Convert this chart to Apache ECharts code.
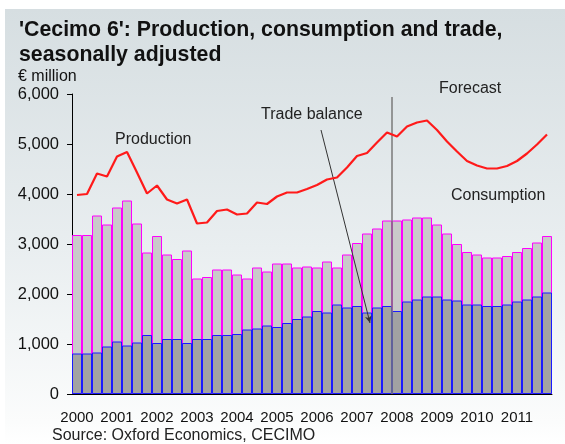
<!DOCTYPE html>
<html>
<head>
<meta charset="utf-8">
<script src="https://cdn.jsdelivr.net/npm/echarts@6/dist/echarts.min.js"></script>
<style>
  html, body { margin: 0; padding: 0; background: #fff; }
  #main { width: 565px; height: 444px; }
</style>
</head>
<body>
<div id="main"></div>
<script>
"use strict"
// quarterly data, 2000 Q1 .. 2011 Q4 (EUR million)
var years = ['2000','2001','2002','2003','2004','2005','2006','2007','2008','2009','2010','2011'];
var quarters = [];
years.forEach(function (y) {
	for (var q = 1; q <= 4; q++) quarters.push(y + ' Q' + q);
});

var consumption = [
	3180, 3180, 3570, 3390, 3730, 3870, 3410, 2830,
	3160, 2790, 2700, 2870, 2310, 2340, 2490, 2490,
	2390, 2310, 2530, 2450, 2610, 2610, 2530, 2550,
	2530, 2650, 2530, 2790, 3020, 3210, 3310, 3470,
	3470, 3490, 3530, 3530, 3390, 3210, 3000, 2840,
	2790, 2730, 2730, 2760, 2840, 2920, 3030, 3160
];
var tradeBalance = [
	810, 810, 830, 950, 1050, 970, 1030, 1180,
	1020, 1100, 1100, 1020, 1100, 1100, 1180, 1180,
	1200, 1290, 1310, 1370, 1340, 1420, 1500, 1550,
	1660, 1630, 1790, 1730, 1760, 1630, 1730, 1760,
	1660, 1850, 1890, 1950, 1950, 1890, 1870, 1790,
	1790, 1760, 1760, 1790, 1850, 1890, 1950, 2030
];
var production = [
	3980, 4000, 4410, 4350, 4750, 4840, 4430, 4010,
	4170, 3890, 3810, 3890, 3410, 3430, 3660, 3690,
	3590, 3610, 3830, 3800, 3950, 4030, 4030, 4100,
	4180, 4290, 4330, 4530, 4760, 4820, 5030, 5230,
	5150, 5350, 5430, 5470, 5280, 5050, 4850, 4660,
	4570, 4510, 4510, 4560, 4660, 4810, 4990, 5190
];
var forecastStart = 32; // 2008 Q1

var myChart = echarts.init(document.getElementById('main'));
var font = 'Liberation Sans, Arial, sans-serif';

var option = {
	animation: false,
	textStyle: { fontFamily: font },
	title: {
		text: "'Cecimo 6': Production, consumption and trade,\nseasonally adjusted",
		left: 19,
		top: 18,
		padding: 0,
		textStyle: { fontSize: 21.3, fontWeight: 'bold', color: '#111', lineHeight: 25, fontFamily: font }
	},
	grid: { left: 72, right: 13, top: 94, bottom: 50 },
	graphic: [
		{
			type: 'rect', z: -10, silent: true,
			shape: { x: 5, y: 9, width: 560, height: 435 },
			style: {
				fill: new echarts.graphic.LinearGradient(0, 0, 0, 1, [
					{ offset: 0, color: '#d6dee1' },
					{ offset: 0.55, color: '#e9eef0' },
					{ offset: 0.95, color: '#fbfcfc' },
					{ offset: 1, color: '#ffffff' }
				])
			}
		},
		{ type: 'text', left: 18, top: 69, style: { text: '€ million', fill: '#111', font: '16px ' + font } },
		{ type: 'text', left: 115, top: 132, style: { text: 'Production', fill: '#222', font: '16px ' + font } },
		{ type: 'text', left: 261, top: 107, style: { text: 'Trade balance', fill: '#222', font: '16px ' + font } },
		{ type: 'text', left: 439, top: 81, style: { text: 'Forecast', fill: '#222', font: '16px ' + font } },
		{ type: 'text', left: 451, top: 188, style: { text: 'Consumption', fill: '#222', font: '16px ' + font } },
		{ type: 'text', left: 52, top: 428, style: { text: 'Source: Oxford Economics, CECIMO', fill: '#222', font: '16px ' + font } }
	],
	xAxis: [
		{
			type: 'category',
			data: quarters,
			boundaryGap: true,
			axisLine: { lineStyle: { color: '#000', width: 1 } },
			axisTick: { interval: 3, length: 5, lineStyle: { color: '#000' } },
			axisLabel: {
				interval: 3,
				margin: 16,
				color: '#111',
				fontSize: 15,
				formatter: function (v) { return v.slice(0, 4); }
			},
			splitLine: { show: false }
		},
		{
			// helper axis for the forecast line and the arrow
			type: 'value', min: 0, max: 48, show: false
		}
	],
	yAxis: {
		type: 'value',
		min: 0,
		max: 6000,
		interval: 1000,
		axisLine: { show: true, lineStyle: { color: '#000', width: 1 } },
		axisTick: { show: true, length: 5, lineStyle: { color: '#000' } },
		axisLabel: {
			color: '#111',
			fontSize: 16.5,
			margin: 13,
			formatter: function (v) { return v.toLocaleString('en-US'); }
		},
		splitLine: { show: false }
	},
	series: [
		{
			name: 'Consumption',
			type: 'bar',
			data: consumption,
			barWidth: 10,
			barGap: '-100%',
			itemStyle: {
				color: '#c9c9c9',
				borderColor: '#ff00ff',
				borderWidth: 1
			},
			z: 2
		},
		{
			name: 'Trade balance',
			type: 'bar',
			data: tradeBalance,
			barWidth: 10,
			barGap: '-100%',
			itemStyle: {
				color: '#a2a2a2',
				borderColor: '#1a1aff',
				borderWidth: 1
			},
			z: 3
		},
		{
			name: 'Production',
			type: 'line',
			data: production,
			symbol: 'none',
			lineStyle: { color: '#ff1a1a', width: 2.2 },
			z: 5
		},
		{
			name: 'annotations',
			type: 'line',
			xAxisIndex: 1,
			data: [],
			z: 6,
			markLine: {
				silent: true,
				symbol: 'none',
				label: { show: false },
				animation: false,
				data: [
					[
						{ coord: [forecastStart, 0], lineStyle: { color: '#7a7a7a', width: 1.5, type: 'solid' } },
						{ coord: [forecastStart, 5940] }
					],
					[
						{ coord: [24.9, 5280], symbol: 'none', lineStyle: { color: '#333', width: 1, type: 'solid' } },
						{ coord: [29.8, 1420], symbol: 'arrow', symbolSize: [5, 7] }
					]
				]
			}
		}
	]
};

if (option && typeof option === "object") {
	myChart.setOption(option, true);
}
</script>
</body>
</html>
